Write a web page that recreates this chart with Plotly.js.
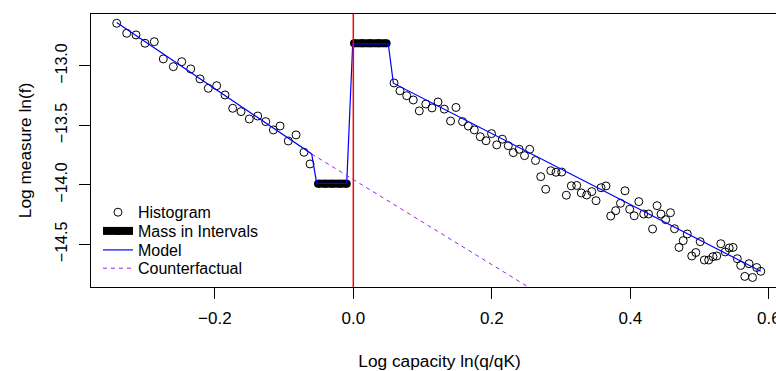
<!DOCTYPE html>
<html><head><meta charset="utf-8">
<script src="https://cdn.plot.ly/plotly-3.0.1.min.js"></script>
<style>html,body{margin:0;padding:0;overflow:hidden;background:#fff;width:776px;height:371px}</style>
</head><body><div id="chart" style="width:800px;height:371px"></div>
<script>
// Histogram points (log capacity, log measure)
const histX = [
 -0.3417,-0.3272,-0.3138,-0.3008,-0.2874,-0.2744,-0.2599,-0.2478,-0.2348,-0.2214,-0.2094,-0.1973,
 -0.1853,-0.1742,-0.1622,-0.1502,-0.1381,-0.1265,-0.1155,-0.1058,-0.0939,-0.0827,-0.0712,-0.0625,
 0.0588,0.0674,0.0771,0.0866,0.0953,0.1047,0.1136,0.1223,0.1314,0.1404,0.1483,0.1577,0.1661,0.1747,
 0.1833,0.1916,0.1996,0.2071,0.2152,0.2238,0.2310,0.2396,0.2472,0.2547,0.2631,0.2706,0.2778,0.2851,
 0.2927,0.3009,0.3076,0.3148,0.3226,0.3292,0.3370,0.3443,0.3505,0.3577,0.3649,0.3717,0.3789,0.3858,
 0.3923,0.3991,0.4056,0.4123,0.4193,0.4263,0.4321,0.4386,0.4443,0.4511,0.4580,0.4638,0.4703,0.4764,
 0.4822,0.4887,0.4946,0.5009,0.5069,0.5132,0.5194,0.5248,0.5307,0.5370,0.5428,0.5483,0.5545,0.5594,
 0.5653,0.5714,0.5765,0.5825,0.5884];
const histY = [
 -12.641,-12.725,-12.739,-12.809,-12.796,-12.941,-13.006,-12.964,-13.025,-13.109,-13.188,-13.166,
 -13.244,-13.356,-13.384,-13.446,-13.421,-13.468,-13.538,-13.505,-13.631,-13.580,-13.726,-13.824,
 -13.143,-13.209,-13.250,-13.286,-13.378,-13.320,-13.353,-13.303,-13.363,-13.463,-13.349,-13.468,-13.505,-13.538,
 -13.595,-13.629,-13.569,-13.664,-13.616,-13.671,-13.729,-13.701,-13.754,-13.701,-13.795,-13.931,-14.037,-13.881,
 -13.894,-13.892,-14.087,-14.008,-14.005,-14.068,-14.085,-14.057,-14.133,-14.024,-14.009,-14.262,-14.217,-14.155,
 -14.050,-14.205,-14.260,-14.141,-14.245,-14.245,-14.371,-14.175,-14.246,-14.293,-14.234,-14.369,-14.526,-14.469,
 -14.413,-14.598,-14.569,-14.478,-14.632,-14.632,-14.604,-14.598,-14.495,-14.564,-14.531,-14.526,-14.621,-14.678,
 -14.770,-14.663,-14.779,-14.695,-14.727];
// Mass in the two intervals (null separates the intervals)
const massX = [-0.0510,-0.0406,-0.0302,-0.0199,-0.0095,null,0.0010,0.0128,0.0245,0.0363,0.0480];
const massY = [-13.990,-13.990,-13.990,-13.990,-13.990,null,-12.809,-12.809,-12.809,-12.809,-12.809];
// Model fit
const modelX = [-0.3417,-0.0601,-0.0529,-0.0095,-0.0009,0.0505,0.0578,0.5884];
const modelY = [-12.635,-13.740,-13.987,-13.987,-12.815,-12.815,-13.145,-14.727];
// Counterfactual
const cfX = [-0.0601,0.5884];
const cfY = [-13.740,-16.060];
// Reference line (threshold at log capacity 0)
const thresholdX = 0.0;
// Axis ticks
const xTicks = [-0.2,0.0,0.2,0.4,0.6];
const yTicks = [-14.5,-14.0,-13.5,-13.0];

const FAM = '"Liberation Sans", Arial, sans-serif';
const F = (s) => ({family:FAM, size:s, color:'#000'});

const traces = [
 {x:histX, y:histY, type:'scatter', mode:'markers', name:'Histogram', legend:'legend',
  marker:{symbol:'circle-open', size:8, color:'#000', line:{width:1, color:'#000'}}},
 {x:massX, y:massY, type:'scatter', mode:'lines+markers', name:'Mass in Intervals', legend:'legend2',
  line:{color:'#000', width:8}, marker:{symbol:'circle', size:8, color:'#000'}},
 {x:modelX, y:modelY, type:'scatter', mode:'lines', name:'Model', legend:'legend3',
  line:{color:'#0000ff', width:1.2}},
 {x:cfX, y:cfY, type:'scatter', mode:'lines', name:'Counterfactual', legend:'legend4',
  line:{color:'#A020F0', width:1, dash:'4px,4px'}}
];

const leg = (y) => ({x:0.01, xanchor:'left', y:y, yanchor:'middle',
  bgcolor:'rgba(0,0,0,0)', borderwidth:0, font:F(16)});

const layout = {
 width:800, height:371,
 margin:{l:91, r:12, t:14, b:84, pad:0},
 paper_bgcolor:'#fff', plot_bgcolor:'#fff',
 font:F(16),
 showlegend:true,
 legend:leg(0.2736), legend2:leg(0.2051), legend3:leg(0.1355), legend4:leg(0.0685),
 shapes:[{type:'line', xref:'x', yref:'paper', x0:thresholdX, x1:thresholdX, y0:0, y1:1,
   line:{color:'#ff0000', width:1.5}, layer:'above'}],
 xaxis:{range:[-0.3788,0.6277], tickvals:xTicks, tickformat:'.1f',
   ticks:'outside', ticklen:11, tickwidth:1, tickcolor:'#000',
   showline:true, mirror:true, linecolor:'#000', linewidth:1,
   showgrid:false, zeroline:false,
   tickfont:F(17), ticklabelstandoff:5,
   title:{text:'Log capacity ln(q/qK)', font:F(17.3), standoff:30}},
 yaxis:{range:[-14.859,-12.563], tickvals:yTicks, tickformat:'.1f', tickangle:-90,
   ticks:'outside', ticklen:11, tickwidth:1, tickcolor:'#000',
   showline:true, mirror:true, linecolor:'#000', linewidth:1,
   showgrid:false, zeroline:false,
   tickfont:F(16), ticklabelstandoff:6,
   title:{text:'Log measure ln(f)', font:F(17.3), standoff:16}}
};

Plotly.newPlot('chart', traces, layout, {staticPlot:true, displayModeBar:false});
</script>
</body></html>
